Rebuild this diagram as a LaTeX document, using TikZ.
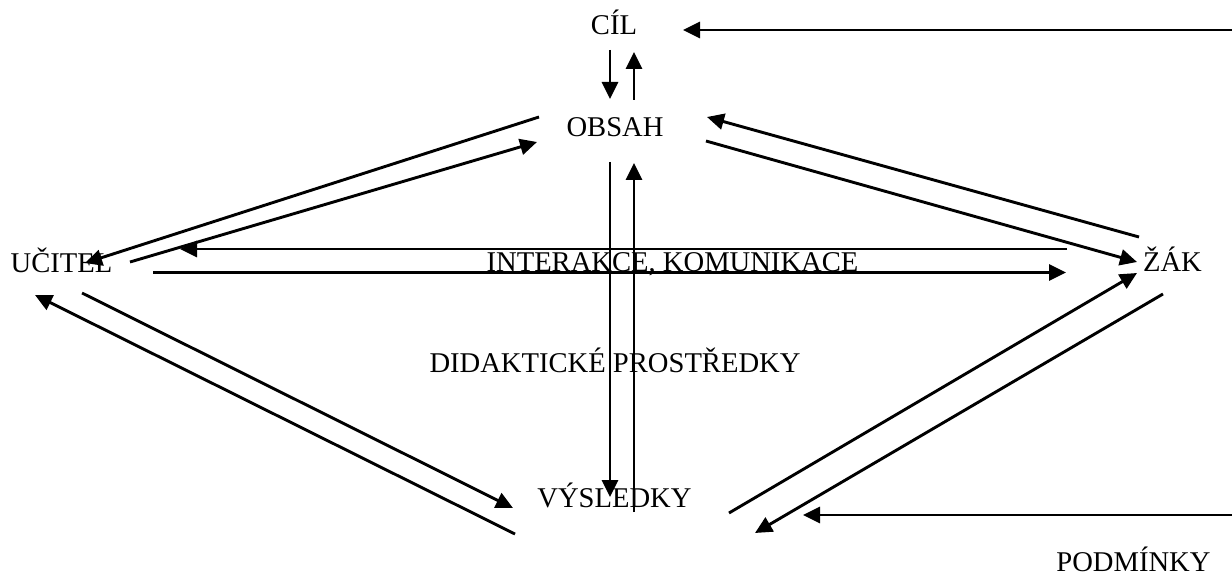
\documentclass[tikz,border=0pt]{standalone}
\usepackage{fontspec}
\setmainfont{Liberation Serif}
\usetikzlibrary{arrows.meta}
\begin{document}
\begin{tikzpicture}[x=1pt,y=-1pt,
  lbl/.style={inner sep=0pt,anchor=base,font=\fontsize{28.6}{34}\selectfont},
  conn/.style={line width=2.9pt,-{Triangle[length=17pt,width=16pt]}}]
\fill[white] (0,0) rectangle (1232,575);
\useasboundingbox (0,0) rectangle (1232,575);
% labels
\node[lbl] (cil) at (614,35) {CÍL};
\node[lbl] (obsah) at (615,137) {OBSAH};
\node[lbl] (ucitel) at (61.5,272) {UČITEL};
\node[lbl] (zak) at (1172.5,271) {ŽÁK};
\node[lbl] (inter) at (672.5,271) {INTERAKCE, KOMUNIKACE};
\node[lbl] (didak) at (615,372) {DIDAKTICKÉ PROSTŘEDKY};
\node[lbl] (vysl) at (614.5,507) {VÝSLEDKY};
\node[lbl] (podm) at (1133.5,571) {PODMÍNKY};
% connector end points
\coordinate (cilE) at (1232,30);   \coordinate (cilR) at (683,30);
\coordinate (cilB1) at (610,50);   \coordinate (obsT1) at (610,99);
\coordinate (obsT2) at (634,100);  \coordinate (cilB2) at (634,52);
\coordinate (obsL1) at (539,117);  \coordinate (ucR1) at (85,263);
\coordinate (ucR2) at (130,262);   \coordinate (obsL2) at (537,142);
\coordinate (zakL1) at (1139,237); \coordinate (obsR1) at (707,117);
\coordinate (obsR2) at (706,141);  \coordinate (zakL2) at (1137,262);
\coordinate (zakH1) at (1067,249); \coordinate (ucH1) at (180,249);
\coordinate (ucH2) at (153,272.5); \coordinate (zakH2) at (1066,272.5);
\coordinate (obsB1) at (610,162);  \coordinate (vysT1) at (610,497);
\coordinate (vysT2) at (634,512);  \coordinate (obsB2) at (634,163);
\coordinate (ucB1) at (82,293);    \coordinate (vysL1) at (513,508);
\coordinate (vysL2) at (515,534);  \coordinate (ucB2) at (35,295);
\coordinate (vysR1) at (729,513);  \coordinate (zakB1) at (1137,273);
\coordinate (zakB2) at (1163,294); \coordinate (vysR2) at (755,533);
\coordinate (podE) at (1232,515);  \coordinate (vysR3) at (803,515);
% connectors
\draw[conn] (cilE) -- (cilR);
\draw[conn] (cilB1) -- (obsT1);
\draw[conn] (obsT2) -- (cilB2);
\draw[conn] (obsL1) -- (ucR1);
\draw[conn] (ucR2) -- (obsL2);
\draw[conn] (zakL1) -- (obsR1);
\draw[conn] (obsR2) -- (zakL2);
\draw[conn] (zakH1) -- (ucH1);
\draw[conn] (ucH2) -- (zakH2);
\draw[conn] (obsB1) -- (vysT1);
\draw[conn] (vysT2) -- (obsB2);
\draw[conn] (ucB1) -- (vysL1);
\draw[conn] (vysL2) -- (ucB2);
\draw[conn] (vysR1) -- (zakB1);
\draw[conn] (zakB2) -- (vysR2);
\draw[conn] (podE) -- (vysR3);
\end{tikzpicture}
\end{document}
